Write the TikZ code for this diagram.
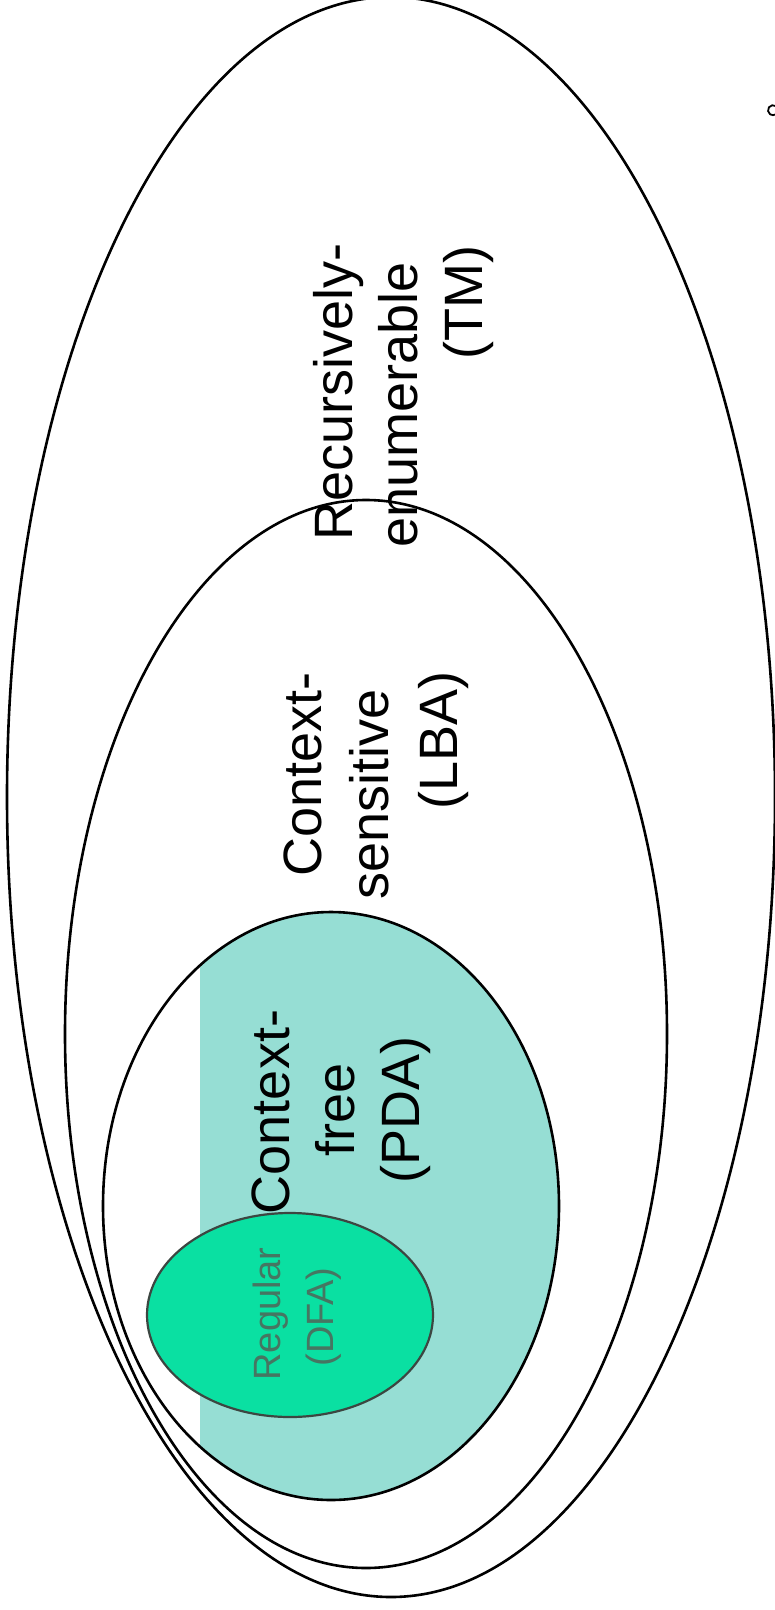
\documentclass[tikz,border=0pt]{standalone}
\usepackage{fontspec}
\setmainfont{Liberation Sans}
\definecolor{cfteal}{RGB}{150,222,212}
\definecolor{regfill}{RGB}{10,224,162}
\definecolor{regtext}{RGB}{70,118,98}
\definecolor{regline}{RGB}{60,70,65}
\tikzset{
  setline/.style={draw=black, line width=2.6pt},
  biglabel/.style={inner sep=0pt, rotate=90, font=\fontsize{54}{65}\selectfont},
  smalllabel/.style={inner sep=0pt, rotate=90, text=regtext, font=\fontsize{38}{46}\selectfont},
}
\begin{document}
\begin{tikzpicture}[x=1pt,y=-1pt]
\useasboundingbox (0,0) rectangle (775,1610);
\fill[white] (0,0) rectangle (775,1610);
% outer set: recursively enumerable
\draw[setline] (391,797) ellipse [x radius=384pt, y radius=800pt];
% context-sensitive
\draw[setline] (366,1034) ellipse [x radius=301pt, y radius=534pt];
% context-free fill (clipped)
\begin{scope}
  \clip (200,0) rectangle (775,1610);
  \fill[cfteal] (331,1206) ellipse [x radius=228pt, y radius=294pt];
\end{scope}
\draw[setline] (331,1206) ellipse [x radius=228pt, y radius=294pt];
% regular
\draw[fill=regfill, draw=regline, line width=2.2pt] (290,1315) ellipse [x radius=143pt, y radius=102pt];
% labels
\node[biglabel, anchor=base west] (re1) at (352,541) {Recursively-};
\node[biglabel, anchor=base west] (re2) at (417,548) {enumerable};
\node[biglabel, anchor=base west] (re3) at (482,360) {(TM)};
\node[biglabel, anchor=base west] (cs1) at (321,877) {Context-};
\node[biglabel, anchor=base west] (cs2) at (388,900) {sensitive};
\node[biglabel, anchor=base west] (cs3) at (457,810) {(LBA)};
\node[biglabel, anchor=base] (cf1) at (289,1112) {Context-};
\node[biglabel, anchor=base] (cf2) at (354,1110) {free};
\node[biglabel, anchor=base] (cf3) at (419,1110) {(PDA)};
\node[smalllabel, anchor=base] (rg1) at (280,1314) {Regular};
\node[smalllabel, anchor=base] (rg2) at (333,1317) {(DFA)};
% small mark at right edge
\draw[line width=1.8pt] (773,102) ++(55:5) arc[start angle=55, end angle=305, radius=5pt];
\end{tikzpicture}
\end{document}
